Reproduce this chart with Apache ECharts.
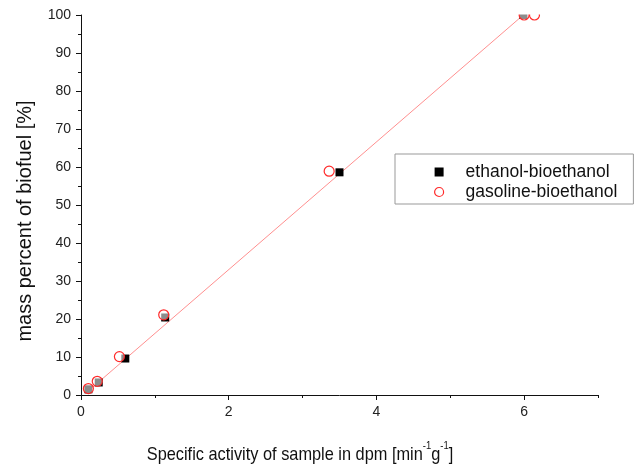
<!DOCTYPE html>
<html>
<head>
<meta charset="utf-8">
<script src="https://cdn.jsdelivr.net/npm/echarts@6/dist/echarts.min.js"></script>
<style>
  html, body { margin: 0; padding: 0; background: #fff; }
  #chart { width: 643px; height: 466px; }
</style>
</head>
<body>
<div id="chart"></div>
<script>
// Calibration measurements: specific activity (dpm per min per g) vs mass percent of biofuel
const ethanolX = [0.10, 0.24, 0.60, 1.14, 3.50, 5.99];
const ethanolY = [1.5, 3.3, 9.6, 20.4, 58.6, 100];
const gasolineX = [0.10, 0.22, 0.52, 1.12, 3.36, 6.00, 6.14];
const gasolineY = [1.7, 3.6, 10.1, 21.1, 58.9, 100, 100];

// Linear calibration fit (end points)
const fitX = [0.06, 6.00];
const fitY = [0.4, 100.2];

// Axis ticks
const xTickLabels = [0, 2, 4, 6];
const xMinorTicks = [1, 3, 5, 7];
const yTickLabels = [0, 10, 20, 30, 40, 50, 60, 70, 80, 90, 100];

const seriesNames = ['ethanol-bioethanol', 'gasoline-bioethanol'];

const FONT = "'Liberation Sans', Arial, Helvetica, sans-serif";
const zip = (xs, ys) => xs.map((x, i) => [x, ys[i]]);

const chart = echarts.init(document.getElementById('chart'), null, { renderer: 'canvas' });

chart.setOption({
  animation: false,
  backgroundColor: '#fff',
  grid: { left: 81, right: 45, top: 15, bottom: 71, containLabel: false },
  xAxis: [
    {
      type: 'value', min: 0, max: 7, interval: 1, position: 'bottom',
      axisLine: { show: true, lineStyle: { color: '#111', width: 1 } },
      axisTick: { show: true, customValues: xTickLabels, length: 5, lineStyle: { color: '#111' } },
      axisLabel: { show: true, customValues: xTickLabels, margin: 10, fontSize: 14, color: '#222', fontFamily: FONT },
      splitLine: { show: false }
    },
    {
      type: 'value', min: 0, max: 7, interval: 1, position: 'bottom',
      axisLine: { show: false },
      axisTick: { show: true, customValues: xMinorTicks, length: 3, lineStyle: { color: '#111' } },
      axisLabel: { show: false },
      splitLine: { show: false }
    }
  ],
  yAxis: {
    type: 'value', min: 0, max: 100, interval: 10,
    axisLine: { show: true, lineStyle: { color: '#111', width: 1 } },
    axisTick: { show: true, length: 5, lineStyle: { color: '#111' } },
    minorTick: { show: true, splitNumber: 2, length: 3, lineStyle: { color: '#111' } },
    axisLabel: {
      margin: 10, fontSize: 14, color: '#222', fontFamily: FONT,
      customValues: yTickLabels
    },
    splitLine: { show: false }
  },
  legend: {
    orient: 'vertical',
    left: 395, top: 154,
    padding: [8, 16, 2, 39],
    borderColor: '#999', borderWidth: 1,
    backgroundColor: '#fff',
    itemWidth: 9, itemHeight: 9, itemGap: 0,
    selectedMode: false,
    textStyle: { fontSize: 17.5, lineHeight: 20, color: '#111', fontFamily: FONT, padding: [0, 0, 0, 17] },
    data: [
      { name: seriesNames[0], icon: 'rect', itemStyle: { color: '#000' } },
      { name: seriesNames[1], icon: 'circle', itemStyle: { color: '#fff', borderColor: '#ff2a2a', borderWidth: 1.2 } }
    ]
  },
  series: [
    {
      name: 'fit', type: 'line', data: zip(fitX, fitY),
      showSymbol: false, silent: true, clip: true, z: 1,
      lineStyle: { color: '#ff8f8f', width: 1 }
    },
    {
      name: seriesNames[0], type: 'scatter', data: zip(ethanolX, ethanolY),
      symbol: 'rect', symbolSize: 8, z: 2,
      itemStyle: { color: '#000', opacity: 1 }
    },
    {
      name: seriesNames[1], type: 'scatter', data: zip(gasolineX, gasolineY),
      symbol: 'circle', symbolSize: 10, z: 3,
      itemStyle: { color: 'rgba(255,255,255,0.55)', borderColor: '#ff2a2a', borderWidth: 1.2, opacity: 1 }
    }
  ],
  graphic: [
    // plot-area clip along the top edge
    { type: 'rect', z: 100, silent: true, shape: { x: 82, y: 0, width: 561, height: 14.5 }, style: { fill: '#fff' } },
    {
      type: 'text', z: 101, x: 300, y: 452, scaleX: 0.86,
      style: {
        text: '{n|Specific activity of sample in dpm [min}{s|-1}{n|g}{s|-1}{n|]}',
        align: 'center', verticalAlign: 'middle',
        rich: {
          n: { fontSize: 19, fontFamily: FONT, fill: '#111', lineHeight: 24, verticalAlign: 'bottom' },
          s: { fontSize: 11, fontFamily: FONT, fill: '#111', lineHeight: 24, verticalAlign: 'top', padding: [0, 0, 6, 0] }
        }
      }
    },
    {
      type: 'text', z: 101, x: 25, y: 221, rotation: Math.PI / 2,
      style: {
        text: 'mass percent of biofuel [%]',
        align: 'center', verticalAlign: 'middle',
        fontSize: 20, fontFamily: FONT, fill: '#111'
      }
    }
  ]
});
</script>
</body>
</html>
